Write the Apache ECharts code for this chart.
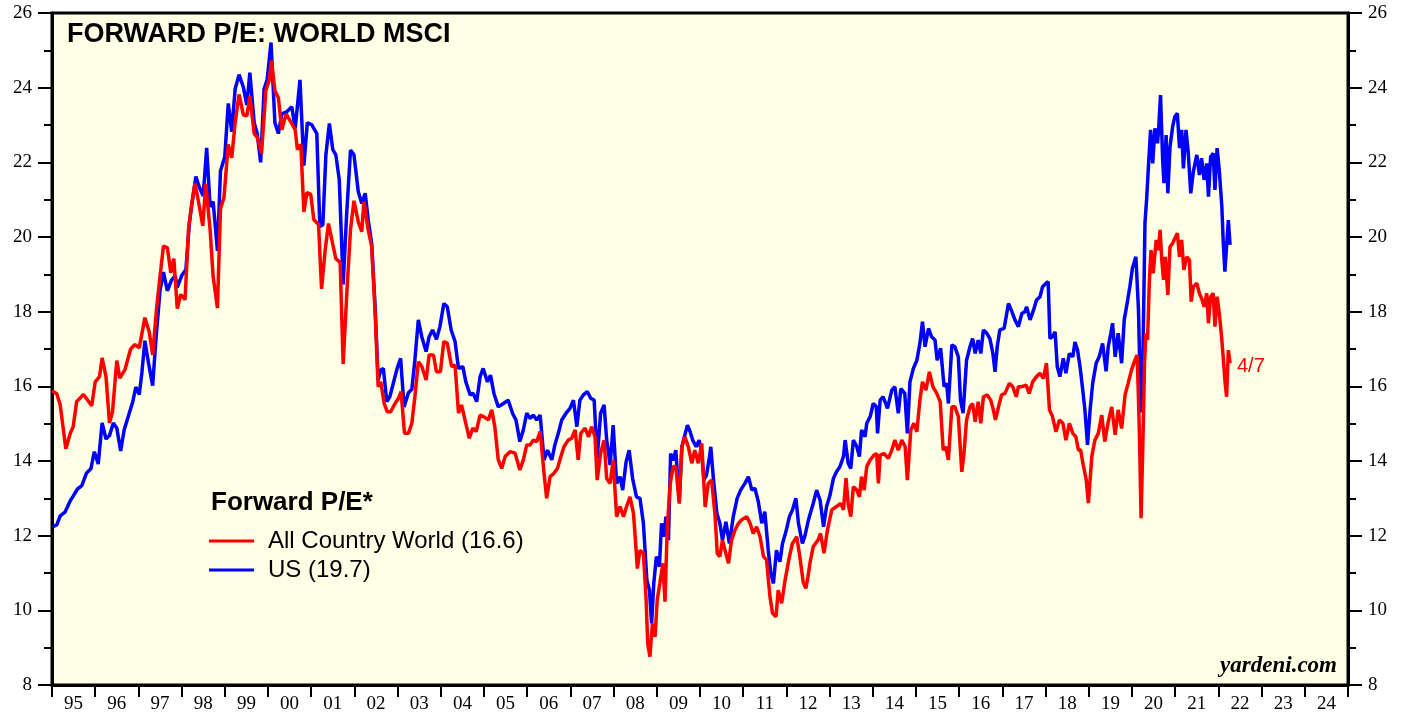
<!DOCTYPE html>
<html>
<head>
<meta charset="utf-8">
<script src="https://cdn.jsdelivr.net/npm/echarts@6/dist/echarts.min.js"></script>
<style>
  html, body { margin: 0; padding: 0; background: #fff; }
  #chart { width: 1407px; height: 717px; }
</style>
</head>
<body>
<div id="chart"></div>
<script>
// year labels along the bottom
var years = ['95','96','97','98','99','00','01','02','03','04','05','06','07','08','09',
             '10','11','12','13','14','15','16','17','18','19','20','21','22','23','24'];

// forward P/E, [decimal year, value]
var acw = [
  [1995.00,15.88],[1995.11,15.80],[1995.19,15.50],[1995.32,14.33],[1995.42,14.73],[1995.49,14.92],
  [1995.57,15.59],[1995.73,15.78],[1995.92,15.48],[1996.00,16.12],[1996.10,16.26],[1996.16,16.76],
  [1996.25,16.26],[1996.33,15.02],[1996.40,15.31],[1996.50,16.69],[1996.57,16.22],[1996.69,16.45],
  [1996.82,17.00],[1996.92,17.12],[1997.02,17.03],[1997.15,17.84],[1997.25,17.46],[1997.33,16.84],
  [1997.42,18.08],[1997.50,18.94],[1997.58,19.76],[1997.67,19.71],[1997.75,19.04],[1997.82,19.42],
  [1997.90,18.08],[1997.98,18.46],[1998.08,18.32],[1998.16,20.19],[1998.23,20.86],[1998.31,21.43],
  [1998.39,20.95],[1998.49,20.30],[1998.56,21.43],[1998.66,20.19],[1998.73,18.94],[1998.83,18.10],
  [1998.90,20.76],[1998.98,21.05],[1999.08,22.48],[1999.16,22.12],[1999.24,23.06],[1999.33,23.82],
  [1999.43,23.27],[1999.51,23.25],[1999.58,23.77],[1999.68,22.77],[1999.75,22.67],[1999.85,22.24],
  [1999.95,23.92],[2000.03,24.21],[2000.08,24.73],[2000.16,23.92],[2000.24,23.73],[2000.32,22.87],
  [2000.42,23.30],[2000.52,23.10],[2000.63,22.87],[2000.68,22.34],[2000.76,22.48],[2000.83,20.67],
  [2000.90,21.19],[2000.99,21.14],[2001.06,20.47],[2001.17,20.33],[2001.24,18.61],[2001.32,19.61],
  [2001.40,20.36],[2001.50,19.80],[2001.57,19.42],[2001.67,19.32],[2001.74,16.60],[2001.82,18.40],
  [2001.91,20.20],[2001.99,20.97],[2002.09,20.41],[2002.17,20.14],[2002.22,20.95],[2002.32,20.19],
  [2002.40,19.74],[2002.48,17.96],[2002.55,15.99],[2002.61,16.12],[2002.69,15.54],[2002.76,15.32],
  [2002.84,15.32],[2002.94,15.54],[2003.02,15.68],[2003.08,15.86],[2003.16,14.74],[2003.25,14.74],
  [2003.33,15.01],[2003.40,15.72],[2003.48,16.66],[2003.56,16.53],[2003.66,16.17],[2003.73,16.84],
  [2003.83,16.84],[2003.90,16.39],[2003.99,16.39],[2004.07,17.20],[2004.15,17.15],[2004.25,16.53],
  [2004.33,16.57],[2004.41,15.28],[2004.48,15.50],[2004.56,15.10],[2004.66,14.61],[2004.74,14.88],
  [2004.82,14.79],[2004.91,15.23],[2004.99,15.19],[2005.10,15.10],[2005.18,15.37],[2005.25,14.92],
  [2005.33,14.03],[2005.41,13.80],[2005.49,14.12],[2005.60,14.25],[2005.72,14.21],[2005.83,13.76],
  [2005.91,14.03],[2005.99,14.43],[2006.07,14.43],[2006.14,14.56],[2006.22,14.52],[2006.30,14.79],
  [2006.39,13.67],[2006.45,13.00],[2006.53,13.58],[2006.62,13.67],[2006.70,13.80],[2006.78,14.12],
  [2006.85,14.38],[2006.95,14.56],[2007.03,14.61],[2007.11,14.83],[2007.18,14.03],[2007.24,14.74],
  [2007.34,14.88],[2007.42,14.65],[2007.49,14.92],[2007.57,14.65],[2007.62,13.49],[2007.70,14.21],
  [2007.78,14.56],[2007.84,13.53],[2007.92,13.40],[2007.99,14.03],[2008.07,12.51],[2008.15,12.78],
  [2008.23,12.51],[2008.30,12.78],[2008.38,13.04],[2008.46,12.60],[2008.50,11.97],[2008.55,11.12],
  [2008.61,11.61],[2008.69,11.52],[2008.75,10.36],[2008.79,9.11],[2008.84,8.76],[2008.90,9.65],
  [2008.96,9.29],[2009.01,10.28],[2009.07,10.72],[2009.14,11.26],[2009.19,10.23],[2009.24,12.15],
  [2009.31,13.40],[2009.38,13.85],[2009.44,13.85],[2009.52,12.86],[2009.58,14.38],[2009.65,14.65],
  [2009.73,14.38],[2009.81,13.94],[2009.88,14.29],[2009.96,13.94],[2010.04,14.47],[2010.12,12.77],
  [2010.19,13.40],[2010.27,13.49],[2010.35,12.51],[2010.40,11.52],[2010.46,11.44],[2010.52,11.88],
  [2010.60,11.52],[2010.66,11.26],[2010.73,11.88],[2010.81,12.15],[2010.89,12.33],[2010.96,12.42],
  [2011.08,12.51],[2011.16,12.33],[2011.23,12.06],[2011.31,12.24],[2011.39,11.97],[2011.47,11.44],
  [2011.54,11.35],[2011.62,10.36],[2011.68,9.92],[2011.76,9.83],[2011.81,10.54],[2011.89,10.19],
  [2011.97,10.81],[2012.07,11.44],[2012.14,11.79],[2012.24,11.97],[2012.31,11.44],[2012.39,10.75],
  [2012.45,10.59],[2012.50,10.90],[2012.55,11.30],[2012.62,11.70],[2012.74,11.90],[2012.79,12.06],
  [2012.87,11.53],[2012.95,12.15],[2013.05,12.69],[2013.16,12.78],[2013.26,12.86],[2013.32,12.69],
  [2013.38,13.54],[2013.43,12.86],[2013.49,12.51],[2013.55,13.31],[2013.63,13.22],[2013.69,13.04],
  [2013.74,13.58],[2013.80,13.22],[2013.86,13.85],[2013.94,14.03],[2014.03,14.16],[2014.09,14.20],
  [2014.13,13.40],[2014.17,14.16],[2014.26,14.20],[2014.36,14.07],[2014.44,14.29],[2014.51,14.56],
  [2014.59,14.29],[2014.67,14.56],[2014.75,14.38],[2014.80,13.49],[2014.88,14.83],[2014.95,15.01],
  [2015.02,14.78],[2015.09,15.63],[2015.15,16.12],[2015.23,15.90],[2015.31,16.39],[2015.39,15.99],
  [2015.48,15.81],[2015.56,15.59],[2015.63,14.29],[2015.69,14.38],[2015.75,14.03],[2015.83,15.45],
  [2015.90,15.45],[2015.98,15.19],[2016.06,13.71],[2016.11,14.20],[2016.17,15.10],[2016.25,15.45],
  [2016.31,15.54],[2016.37,15.05],[2016.44,15.59],[2016.50,15.01],[2016.56,15.72],[2016.65,15.77],
  [2016.73,15.63],[2016.79,15.37],[2016.84,15.10],[2016.91,15.45],[2016.98,15.77],[2017.06,15.81],
  [2017.16,16.08],[2017.24,15.99],[2017.32,15.72],[2017.37,15.99],[2017.45,15.99],[2017.55,16.03],
  [2017.62,15.81],[2017.70,16.12],[2017.79,16.26],[2017.87,16.35],[2017.95,16.21],[2018.02,16.62],
  [2018.09,15.37],[2018.16,15.19],[2018.24,14.78],[2018.32,15.10],[2018.40,15.01],[2018.47,14.56],
  [2018.55,15.01],[2018.63,14.74],[2018.70,14.65],[2018.76,14.29],[2018.81,14.30],[2018.87,13.90],
  [2018.94,13.50],[2018.99,12.87],[2019.07,14.12],[2019.14,14.56],[2019.22,14.74],[2019.30,15.23],
  [2019.37,14.52],[2019.45,15.05],[2019.53,15.45],[2019.61,14.70],[2019.68,15.37],[2019.76,14.87],
  [2019.84,15.77],[2019.91,16.08],[2019.99,16.44],[2020.07,16.71],[2020.12,16.84],[2020.17,14.83],
  [2020.21,12.47],[2020.25,14.38],[2020.29,16.62],[2020.32,17.42],[2020.36,17.24],[2020.40,18.76],
  [2020.44,19.65],[2020.49,19.03],[2020.56,19.92],[2020.61,19.65],[2020.65,20.19],[2020.69,19.38],
  [2020.73,18.85],[2020.77,19.47],[2020.83,18.45],[2020.88,19.74],[2020.94,19.83],[2020.99,19.96],
  [2021.05,20.10],[2021.10,19.47],[2021.15,19.92],[2021.20,19.12],[2021.27,19.47],[2021.33,19.38],
  [2021.37,18.27],[2021.42,18.67],[2021.50,18.76],[2021.56,18.49],[2021.61,18.36],[2021.67,18.13],
  [2021.73,18.49],[2021.77,17.69],[2021.82,18.40],[2021.88,18.49],[2021.92,17.60],[2021.97,18.40],
  [2022.02,17.96],[2022.08,17.24],[2022.11,16.79],[2022.15,16.17],[2022.19,15.72],[2022.23,16.97],
  [2022.27,16.62]
];

var us = [
  [1995.02,12.24],[1995.11,12.29],[1995.19,12.53],[1995.30,12.63],[1995.42,12.93],[1995.49,13.06],
  [1995.59,13.25],[1995.69,13.34],[1995.80,13.68],[1995.90,13.79],[1995.98,14.25],[1996.07,13.92],
  [1996.16,15.02],[1996.25,14.59],[1996.33,14.68],[1996.42,15.02],[1996.50,14.88],[1996.59,14.27],
  [1996.67,14.83],[1996.77,15.21],[1996.87,15.59],[1996.94,15.98],[1997.02,15.78],[1997.08,16.36],
  [1997.15,17.22],[1997.23,16.65],[1997.33,16.02],[1997.41,17.32],[1997.50,18.56],[1997.58,19.06],
  [1997.67,18.56],[1997.77,18.85],[1997.85,18.96],[1997.90,18.65],[1998.00,18.96],[1998.10,19.13],
  [1998.18,20.38],[1998.26,21.05],[1998.33,21.62],[1998.41,21.33],[1998.50,21.10],[1998.58,22.39],
  [1998.66,20.81],[1998.73,20.95],[1998.83,19.63],[1998.90,21.77],[1999.00,22.15],[1999.08,23.58],
  [1999.16,22.82],[1999.24,23.97],[1999.33,24.35],[1999.43,24.01],[1999.51,23.54],[1999.58,24.40],
  [1999.68,23.06],[1999.75,22.77],[1999.83,22.00],[1999.91,23.97],[1999.98,24.21],[2000.07,25.21],
  [2000.16,23.06],[2000.24,22.77],[2000.32,23.30],[2000.43,23.35],[2000.55,23.49],[2000.63,22.91],
  [2000.74,24.21],[2000.83,21.91],[2000.91,23.06],[2001.01,23.01],[2001.13,22.77],[2001.20,20.28],
  [2001.27,20.33],[2001.34,22.20],[2001.42,23.04],[2001.50,22.34],[2001.57,22.20],[2001.65,21.53],
  [2001.74,18.73],[2001.82,20.60],[2001.91,22.33],[2001.99,22.20],[2002.09,21.21],[2002.17,20.90],
  [2002.25,21.17],[2002.32,20.45],[2002.40,19.83],[2002.48,18.13],[2002.55,16.17],[2002.61,16.44],
  [2002.67,16.48],[2002.75,15.59],[2002.82,15.72],[2002.92,16.17],[2002.99,16.48],[2003.07,16.75],
  [2003.15,15.45],[2003.25,15.83],[2003.33,15.92],[2003.40,16.70],[2003.48,17.78],[2003.56,17.33],
  [2003.66,16.93],[2003.73,17.33],[2003.81,17.51],[2003.90,17.26],[2003.98,17.60],[2004.07,18.22],
  [2004.15,18.13],[2004.24,17.51],[2004.33,17.20],[2004.41,16.48],[2004.51,16.53],[2004.58,16.12],
  [2004.68,15.77],[2004.75,15.81],[2004.83,15.59],[2004.91,16.26],[2004.98,16.48],[2005.08,16.12],
  [2005.15,16.30],[2005.23,15.81],[2005.33,15.45],[2005.45,15.54],[2005.56,15.63],[2005.66,15.28],
  [2005.74,15.10],[2005.83,14.52],[2005.91,14.83],[2005.99,15.28],[2006.07,15.14],[2006.14,15.23],
  [2006.22,15.10],[2006.30,15.23],[2006.39,14.03],[2006.47,14.29],[2006.57,14.03],[2006.64,14.43],
  [2006.72,14.74],[2006.80,15.10],[2006.90,15.28],[2006.99,15.41],[2007.07,15.63],[2007.15,14.92],
  [2007.22,15.63],[2007.30,15.77],[2007.39,15.86],[2007.47,15.68],[2007.55,15.63],[2007.62,14.07],
  [2007.70,15.28],[2007.78,15.50],[2007.84,14.56],[2007.92,13.89],[2007.99,14.96],[2008.07,13.40],
  [2008.15,13.58],[2008.21,13.22],[2008.29,13.98],[2008.36,14.29],[2008.44,13.53],[2008.53,13.04],
  [2008.61,13.00],[2008.69,12.33],[2008.77,10.81],[2008.83,10.54],[2008.88,9.65],[2008.93,10.72],
  [2008.99,11.44],[2009.06,11.17],[2009.11,12.33],[2009.17,11.97],[2009.21,12.51],[2009.27,11.88],
  [2009.32,14.20],[2009.38,14.02],[2009.44,14.29],[2009.52,12.91],[2009.58,14.38],[2009.63,14.61],
  [2009.71,14.96],[2009.77,14.79],[2009.83,14.56],[2009.91,14.38],[2009.98,14.56],[2010.04,14.20],
  [2010.09,13.49],[2010.15,13.62],[2010.22,14.11],[2010.25,14.38],[2010.31,13.53],[2010.39,12.60],
  [2010.46,12.33],[2010.52,11.88],[2010.60,12.37],[2010.68,11.79],[2010.77,12.51],[2010.86,13.00],
  [2010.94,13.22],[2011.04,13.40],[2011.12,13.58],[2011.20,13.22],[2011.27,13.27],[2011.35,12.91],
  [2011.43,12.33],[2011.50,12.64],[2011.58,11.61],[2011.64,10.99],[2011.70,10.72],[2011.77,11.61],
  [2011.85,11.30],[2011.91,11.79],[2011.99,12.11],[2012.07,12.51],[2012.14,12.69],[2012.22,13.00],
  [2012.28,12.33],[2012.37,11.79],[2012.43,12.00],[2012.51,12.42],[2012.62,12.86],[2012.70,13.22],
  [2012.78,12.95],[2012.86,12.24],[2012.93,12.78],[2013.01,13.09],[2013.09,13.54],[2013.16,13.71],
  [2013.24,13.85],[2013.32,14.12],[2013.36,14.56],[2013.43,13.94],[2013.49,13.80],[2013.55,14.56],
  [2013.63,14.38],[2013.69,14.12],[2013.74,14.83],[2013.82,14.65],[2013.86,15.01],[2013.94,15.19],
  [2014.01,15.54],[2014.08,15.46],[2014.11,14.74],[2014.17,15.63],[2014.24,15.72],[2014.34,15.41],
  [2014.44,15.90],[2014.51,15.99],[2014.59,15.28],[2014.65,15.94],[2014.74,15.81],[2014.80,14.74],
  [2014.86,16.12],[2014.94,16.48],[2015.02,16.70],[2015.09,17.15],[2015.15,17.73],[2015.21,17.06],
  [2015.29,17.55],[2015.36,17.33],[2015.44,17.24],[2015.49,16.70],[2015.57,17.02],[2015.65,15.99],
  [2015.71,16.08],[2015.75,15.54],[2015.83,17.11],[2015.90,17.06],[2015.98,16.79],[2016.03,15.63],
  [2016.09,15.28],[2016.17,16.70],[2016.25,17.06],[2016.31,17.28],[2016.37,16.88],[2016.44,17.24],
  [2016.50,16.88],[2016.56,17.51],[2016.64,17.42],[2016.71,17.28],[2016.78,16.88],[2016.83,16.39],
  [2016.88,17.06],[2016.94,17.51],[2017.04,17.55],[2017.14,18.22],[2017.22,18.00],[2017.29,17.78],
  [2017.37,17.60],[2017.45,17.95],[2017.52,18.00],[2017.56,18.13],[2017.64,17.78],[2017.72,18.04],
  [2017.79,18.31],[2017.87,18.40],[2017.93,18.67],[2018.01,18.76],[2018.06,18.80],[2018.10,17.28],
  [2018.16,17.33],[2018.22,17.46],[2018.27,16.52],[2018.33,16.26],[2018.41,16.75],[2018.47,16.35],
  [2018.55,16.88],[2018.63,16.79],[2018.68,17.19],[2018.74,16.97],[2018.80,16.50],[2018.86,15.90],
  [2018.91,15.37],[2018.97,14.43],[2019.03,15.37],[2019.09,16.08],[2019.17,16.62],[2019.24,16.79],
  [2019.32,17.15],[2019.40,16.40],[2019.45,17.06],[2019.51,17.42],[2019.55,17.69],[2019.61,16.79],
  [2019.68,17.42],[2019.76,16.62],[2019.82,17.78],[2019.90,18.31],[2019.95,18.67],[2020.01,19.16],
  [2020.09,19.47],[2020.15,18.04],[2020.18,16.53],[2020.22,15.30],[2020.25,16.50],[2020.30,20.37],
  [2020.34,21.04],[2020.38,21.88],[2020.43,22.87],[2020.48,21.97],[2020.53,22.91],[2020.59,22.51],
  [2020.62,22.95],[2020.66,23.80],[2020.71,22.06],[2020.74,21.44],[2020.79,22.73],[2020.83,21.17],
  [2020.88,22.42],[2020.94,22.95],[2020.99,23.22],[2021.05,23.31],[2021.10,22.38],[2021.15,22.87],
  [2021.19,21.84],[2021.25,22.87],[2021.30,22.29],[2021.36,21.17],[2021.42,21.75],[2021.50,22.20],
  [2021.56,21.66],[2021.61,22.11],[2021.67,21.53],[2021.73,21.97],[2021.77,21.08],[2021.82,22.15],
  [2021.88,22.24],[2021.92,21.26],[2021.97,22.38],[2022.02,21.79],[2022.08,20.81],[2022.11,19.92],
  [2022.15,19.07],[2022.19,19.12],[2022.23,20.45],[2022.27,19.79]
];

var acwName = 'All Country World (16.6)';
var usName = 'US (19.7)';

var dom = document.getElementById('chart');
var myChart = echarts.init(dom);

var serif = 'Liberation Serif';
var sans = 'Liberation Sans';

function yAxisFor(pos) {
    return {
        type: 'value',
        position: pos,
        min: 8,
        max: 26,
        interval: 2,
        axisLine: { show: true, lineStyle: { color: '#000', width: 3 } },
        axisTick: { show: true, inside: false, length: 14, lineStyle: { color: '#000', width: 2 } },
        minorTick: { show: true, splitNumber: 2, length: 8, lineStyle: { color: '#000', width: 2 } },
        axisLabel: { color: '#000', fontFamily: serif, fontSize: 19, margin: 20 },
        splitLine: { show: false }
    };
}

var option = {
    backgroundColor: '#ffffff',
    animation: false,
    grid: {
        left: 52, right: 59, top: 13, bottom: 32,
        show: true,
        backgroundColor: '#FFFFE5',
        borderColor: '#000',
        borderWidth: 3
    },
    legend: {
        data: [acwName, usName],
        orient: 'vertical',
        left: 209,
        top: 529,
        padding: 0,
        icon: 'rect',
        itemWidth: 45,
        itemHeight: 3,
        itemGap: 5,
        selectedMode: false,
        textStyle: { color: '#000', fontFamily: sans, fontSize: 24, lineHeight: 24, padding: [0, 0, 0, 9] }
    },
    xAxis: [
        {
            type: 'category',
            data: years,
            boundaryGap: true,
            axisLine: { show: true, lineStyle: { color: '#000', width: 3 } },
            axisTick: { show: true, inside: false, length: 12, lineStyle: { color: '#000', width: 2 } },
            axisLabel: { color: '#000', fontFamily: serif, fontSize: 19, margin: 10, interval: 0 },
            splitLine: { show: false }
        },
        {
            type: 'value',
            min: 1995,
            max: 2025,
            show: false,
            splitLine: { show: false }
        }
    ],
    yAxis: [ yAxisFor('left'), yAxisFor('right') ],
    series: [
        {
            name: usName,
            type: 'line',
            xAxisIndex: 1,
            yAxisIndex: 0,
            data: us,
            showSymbol: false,
            symbol: 'none',
            lineStyle: { color: '#0000FF', width: 3.5 },
            itemStyle: { color: '#0000FF' }
        },
        {
            name: acwName,
            type: 'line',
            xAxisIndex: 1,
            yAxisIndex: 0,
            data: acw,
            showSymbol: false,
            symbol: 'none',
            lineStyle: { color: '#FF0000', width: 3.5 },
            itemStyle: { color: '#FF0000' }
        }
    ],
    graphic: [
        {
            type: 'text', left: 67, top: 21,
            style: { text: 'FORWARD P/E: WORLD MSCI', fill: '#000', font: 'bold 27px "Liberation Sans"' }
        },
        {
            type: 'text', left: 211, top: 490,
            style: { text: 'Forward P/E*', fill: '#000', font: 'bold 26px "Liberation Sans"' }
        },
        {
            type: 'text', left: 1237, top: 356,
            style: { text: '4/7', fill: '#FF0000', font: '20px "Liberation Sans"' }
        },
        {
            type: 'text', right: 70, top: 655,
            style: { text: 'yardeni.com', fill: '#000', font: 'italic bold 23px "Liberation Serif"' }
        }
    ]
};

if (option && typeof option === "object") {
    myChart.setOption(option, true);
}
</script>
</body>
</html>
